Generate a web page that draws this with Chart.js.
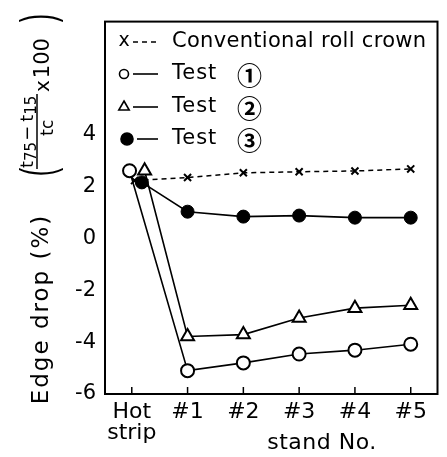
<!DOCTYPE html>
<html>
<head>
<meta charset="utf-8">
<script src="https://cdn.jsdelivr.net/npm/chart.js@4.4.1/dist/chart.umd.min.js"></script>
<style>
html,body{margin:0;padding:0;background:#fff;}
canvas{display:block;}
</style>
</head>
<body>
<canvas id="c" width="447" height="457"></canvas>
<script>
// ---- data ----
const standLabels = [['Hot', 'strip'], '#1', '#2', '#3', '#4', '#5'];
const standIndex = [0, 1, 2, 3, 4, 5];
const yTicks = [-6, -4, -2, 0, 2, 4];
const legendNames = ['Conventional roll crown', 'Test ①', 'Test ②', 'Test ③'];

const conventionalX = [0.05, 1, 2, 3, 4, 5];
const conventional = [2.23, 2.35, 2.53, 2.57, 2.6, 2.68];
const test1X = [-0.04, 1, 2, 3, 4, 5];
const test1 = [2.61, -5.1, -4.8, -4.46, -4.31, -4.08];
const test2X = [0.23, 1, 2, 3, 4, 5];
const test2 = [2.61, -3.78, -3.71, -3.07, -2.69, -2.58];
const test3X = [0.18, 1, 2, 3, 4, 5];
const test3 = [2.16, 1.03, 0.84, 0.88, 0.8, 0.8];

const FONT = "'DejaVu Sans', sans-serif";
const pts = (xs, ys) => xs.map((x, i) => ({ x: x, y: ys[i] }));

function rotText(ctx, text, x, y, size, align, spacing, fam, squeeze) {
  ctx.save();
  ctx.translate(x, y);
  ctx.rotate(-Math.PI / 2);
  if (squeeze) ctx.scale(squeeze, 1);
  ctx.font = size + 'px ' + (fam || FONT);
  ctx.textAlign = align || 'center';
  ctx.textBaseline = 'middle';
  if (spacing !== undefined) ctx.letterSpacing = spacing + 'px';
  ctx.fillText(text, 0, 0);
  ctx.restore();
}
// draw a sequence of rotated pieces running upward from canvas (x, y)
function rotSeq(ctx, pieces, x, y) {
  let u = 0;
  ctx.save();
  ctx.translate(x, y);
  ctx.rotate(-Math.PI / 2);
  ctx.textAlign = 'left';
  ctx.textBaseline = 'alphabetic';
  for (const p of pieces) {
    ctx.font = p.size + 'px ' + FONT;
    ctx.fillText(p.t, u, p.dy || 0);
    u += ctx.measureText(p.t).width + (p.gap || 0);
  }
  ctx.restore();
  return u;
}

const decor = {
  id: 'decor',
  afterDraw(chart) {
    const ctx = chart.ctx;
    const a = chart.chartArea;
    const xs = chart.scales.x;
    ctx.save();
    ctx.strokeStyle = '#000';
    ctx.fillStyle = '#000';
    // frame
    ctx.lineWidth = 2;
    ctx.strokeRect(a.left, a.top, a.right - a.left, a.bottom - a.top);
    // inner ticks on x axis
    ctx.lineWidth = 1.5;
    standIndex.forEach(v => {
      const px = xs.getPixelForValue(v);
      ctx.beginPath();
      ctx.moveTo(px, a.bottom);
      ctx.lineTo(px, a.bottom - 7);
      ctx.stroke();
    });
    // axis titles
    rotText(ctx, 'Edge drop (%)', 42, 309, 23, 'center', 2);
    ctx.font = '22px ' + FONT;
    ctx.letterSpacing = '0.5px';
    ctx.textAlign = 'center';
    ctx.textBaseline = 'middle';
    ctx.fillText('stand No.', 322, 443);
    ctx.letterSpacing = '0px';
    // fraction expression
    rotText(ctx, '(', 40, 172, 46, 'center', 0, "'Liberation Sans', sans-serif", 0.55);
    rotText(ctx, ')', 40, 18, 46, 'center', 0, "'Liberation Sans', sans-serif", 0.55);
    rotSeq(ctx, [
      { t: 't', size: 18 }, { t: '75', size: 15, dy: 3, gap: 1 },
      { t: '−', size: 18, gap: 4 },
      { t: 't', size: 18 }, { t: '15', size: 15, dy: 3 }
    ], 33, 168);
    ctx.lineWidth = 1.5;
    ctx.beginPath();
    ctx.moveTo(37, 169);
    ctx.lineTo(37, 94);
    ctx.stroke();
    rotSeq(ctx, [{ t: 't', size: 18 }, { t: 'c', size: 17 }], 53, 136);
    rotSeq(ctx, [{ t: 'x', size: 20, gap: 2 }, { t: '100', size: 21 }], 49, 92);
    // legend
    const rows = [42, 74, 107, 139];
    chart.data.datasets.forEach((ds, i) => {
      const y = rows[i];
      ctx.strokeStyle = '#000';
      ctx.fillStyle = '#000';
      ctx.lineWidth = 1.6;
      ctx.setLineDash(ds.borderDash || []);
      ctx.beginPath();
      ctx.moveTo(i === 3 ? 137 : 133, y);
      ctx.lineTo(158, y);
      ctx.stroke();
      ctx.setLineDash([]);
      if (ds.pointStyle === 'crossRot') {
        ctx.font = '19px ' + FONT;
        ctx.textAlign = 'center';
        ctx.textBaseline = 'middle';
        ctx.fillText('x', 124, y - 1);
      } else {
        ctx.fillStyle = ds.pointBackgroundColor;
        Chart.helpers.drawPoint(ctx, {
          pointStyle: ds.pointStyle,
          radius: ds.pointStyle === 'triangle' ? 6 : (i === 3 ? 6 : 4.5),
          borderWidth: 1.6,
          rotation: 0
        }, i === 3 ? 127 : 124, y);
        ctx.fillStyle = '#000';
      }
      const name = legendNames[i];
      ctx.textAlign = 'left';
      ctx.textBaseline = 'middle';
      ctx.fillStyle = '#000';
      if (name.startsWith('Test ')) {
        ctx.font = '21px ' + FONT;
        ctx.letterSpacing = '1px';
        ctx.fillText('Test', 172, y);
        ctx.letterSpacing = '0px';
        ctx.font = "bold 25px 'Noto Sans CJK JP', 'DejaVu Sans', sans-serif";
        ctx.fillText(name.slice(5), 237, y + 1);
      } else {
        ctx.font = '21px ' + FONT;
        ctx.letterSpacing = '0.3px';
        ctx.fillText(name, 172, y);
        ctx.letterSpacing = '0px';
      }
    });
    ctx.restore();
  }
};

new Chart(document.getElementById('c').getContext('2d'), {
  type: 'line',
  data: {
    datasets: [
      {
        label: legendNames[0], data: pts(conventionalX, conventional),
        borderColor: '#000', borderWidth: 1.5, borderDash: [5, 4],
        pointStyle: 'crossRot', pointRadius: 5, pointBorderWidth: 2,
        pointBorderColor: '#000', pointBackgroundColor: '#000', tension: 0
      },
      {
        label: legendNames[1], data: pts(test1X, test1),
        borderColor: '#000', borderWidth: 1.6,
        pointStyle: 'circle', pointRadius: 6.5, pointBorderWidth: 2,
        pointBorderColor: '#000', pointBackgroundColor: '#fff', tension: 0
      },
      {
        label: legendNames[2], data: pts(test2X, test2),
        borderColor: '#000', borderWidth: 1.6,
        pointStyle: 'triangle', pointRadius: 7.5, pointBorderWidth: 2,
        pointBorderColor: '#000', pointBackgroundColor: '#fff', tension: 0
      },
      {
        label: legendNames[3], data: pts(test3X, test3),
        borderColor: '#000', borderWidth: 1.6,
        pointStyle: 'circle', pointRadius: 6.5, pointBorderWidth: 1,
        pointBorderColor: '#000', pointBackgroundColor: '#000', tension: 0
      }
    ]
  },
  options: {
    responsive: false,
    animation: false,
    events: [],
    layout: { padding: { top: 12, right: 6, left: 0, bottom: 0 } },
    plugins: { legend: { display: false }, tooltip: { enabled: false } },
    scales: {
      x: {
        type: 'linear', min: -0.48, max: 5.48,
        afterBuildTicks: s => { s.ticks = standIndex.map(v => ({ value: v })); },
        afterFit: s => { s.height = 63; },
        grid: { display: false, drawTicks: false },
        border: { display: false },
        ticks: {
          padding: 8, color: '#000', maxRotation: 0, autoSkip: false,
          font: { family: FONT, size: 22, lineHeight: 0.95 },
          callback: v => standLabels[standIndex.indexOf(v)]
        }
      },
      y: {
        type: 'linear', min: -6, max: 8.36,
        afterBuildTicks: s => { s.ticks = yTicks.map(v => ({ value: v })); },
        afterFit: s => { s.width = 105; },
        grid: { display: false, drawTicks: false },
        border: { display: false },
        ticks: {
          padding: 9, color: '#000',
          font: { family: FONT, size: 21 },
          callback: v => (v < 0 ? '-' + Math.abs(v) : String(v))
        }
      }
    }
  },
  plugins: [decor]
});
</script>
</body>
</html>
